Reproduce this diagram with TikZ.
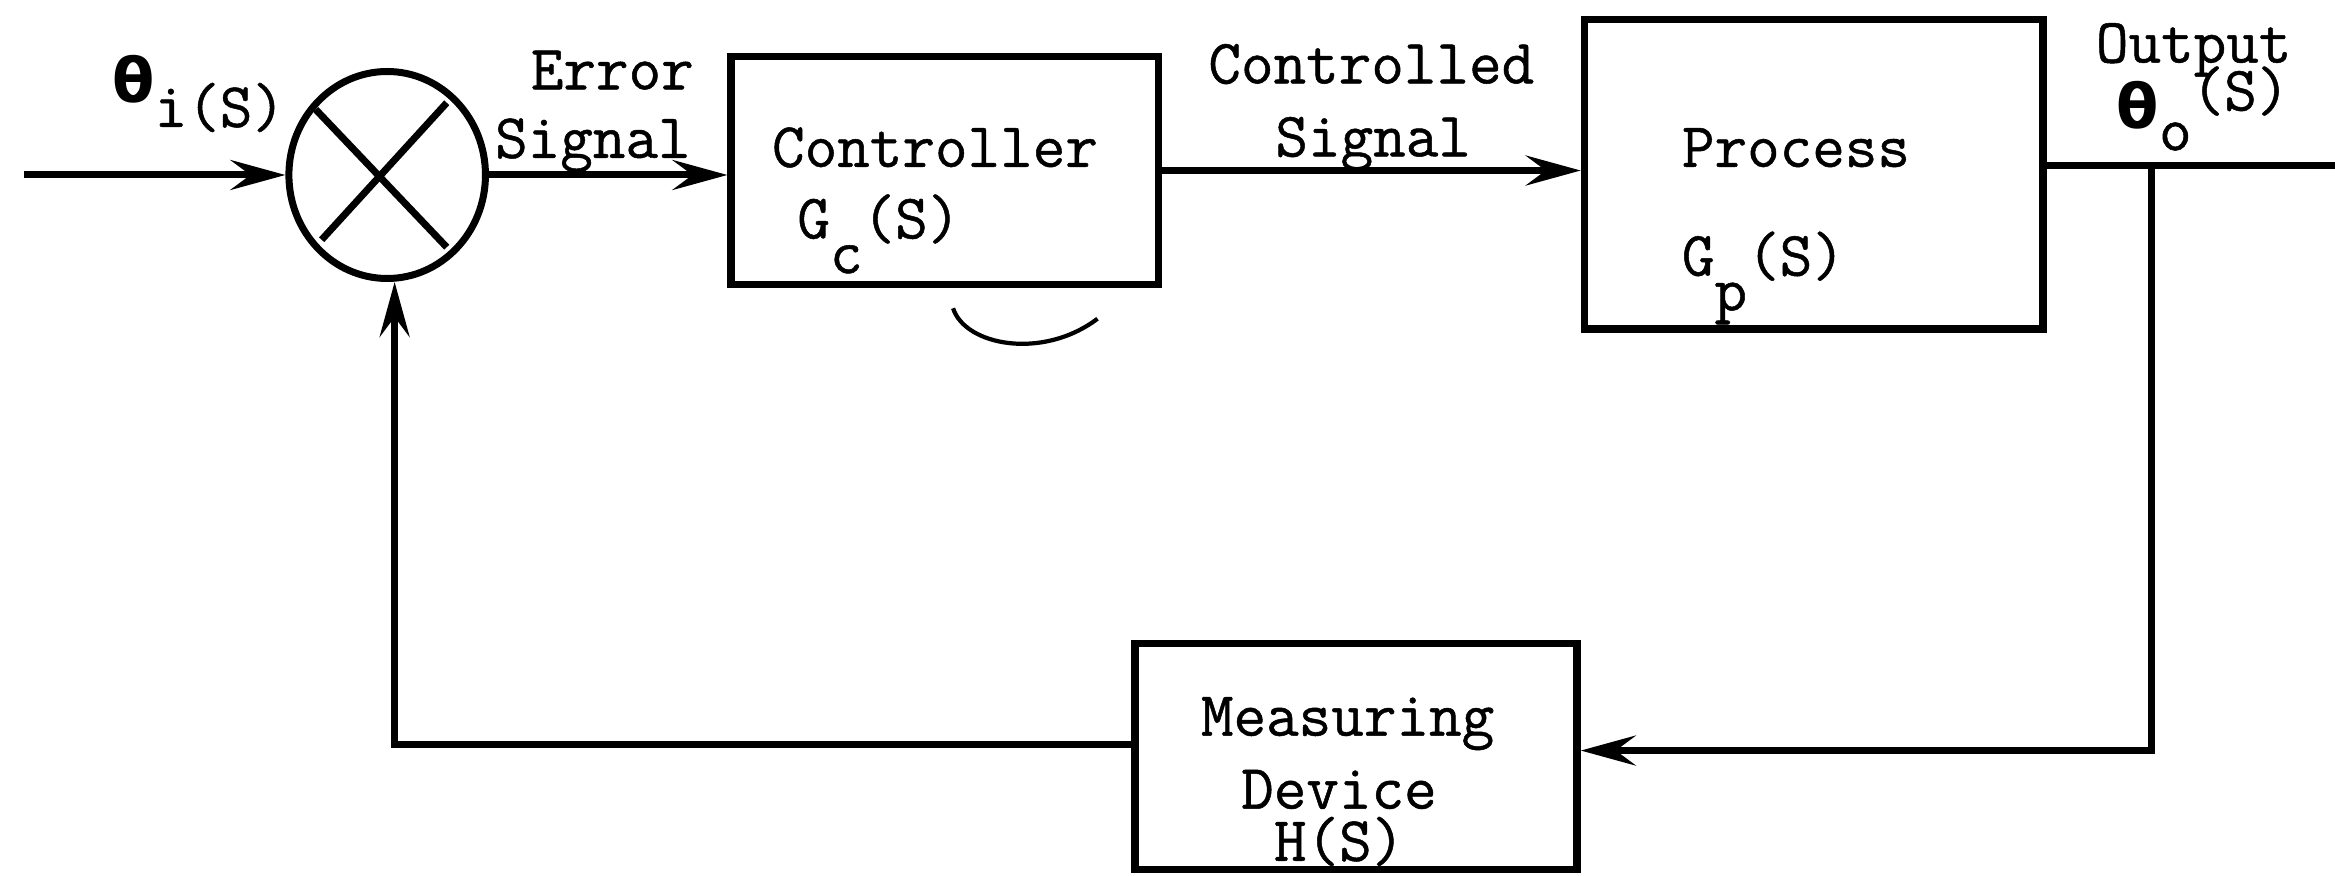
\documentclass[tikz,border=0pt]{standalone}
\usepackage{fontspec}
\usetikzlibrary{arrows.meta,shapes.geometric,calc}
\newfontfamily\thfont{DejaVu Sans}
\newfontfamily\tw{Latin Modern Mono}[FakeBold=0.8]
\newcommand{\lowr}[1]{\raisebox{-0.55em}{#1}}
\newcommand{\thbold}{{\thfont\bfseries\fontsize{17.5}{20}\selectfont θ}}
\begin{document}
\begin{tikzpicture}[x=0.14892mm,y=-0.14892mm,
  lbl/.style={font=\tw\fontsize{18}{20}\selectfont, inner sep=0pt, anchor=base west},
  blk/.style={draw, line width=0.75mm, rectangle, inner sep=0pt},
  wire/.style={line width=0.7mm},
  sig/.style={line width=0.7mm, -{Stealth[length=5.5mm,width=3mm,inset=2mm]}}]
\useasboundingbox (0,0) rectangle (1568,588);

% blocks
\node[draw, ellipse, line width=0.7mm, inner sep=0pt,
      minimum width={132*0.14892mm}, minimum height={139*0.14892mm}] (sum) at (260,117.5) {};
\node[blk, minimum width={287*0.14892mm}, minimum height={153*0.14892mm}] (ctrl) at (634.5,114.5) {};
\node[blk, minimum width={308*0.14892mm}, minimum height={208*0.14892mm}] (proc) at (1218,117) {};
\node[blk, minimum width={297*0.14892mm}, minimum height={152*0.14892mm}] (meas) at (910.5,508) {};

% cross in summing junction
\draw[line width=0.7mm] ($(sum.center)+(-48,-44)$) -- ($(sum.center)+(40,48.5)$);
\draw[line width=0.7mm] ($(sum.center)+(40,-48.5)$) -- ($(sum.center)+(-44,43.5)$);

% coordinates
\coordinate (in) at (16,117.5);
\coordinate (br) at (1445,111);
\coordinate (out) at (1568,111);
\coordinate (fbR) at (1445,504);
\coordinate (fbL) at (265,500);

% connectors
\draw[sig] (in) -- (sum.west);
\draw[sig] (sum.east) -- (sum.east -| ctrl.west);
\draw[sig] (ctrl.east) -- (ctrl.east -| proc.west);
\draw[wire] (proc.east |- br) -- (out);
\draw[sig] (br) -- (fbR) -- (fbR -| meas.east);
\draw[sig] (fbL -| meas.west) -- (fbL) -- (fbL |- sum.south);

% pen mark below controller
\draw[line width=1.2pt] (640,207) .. controls (648,232) and (700,242) .. (737,214);

% labels
\node[lbl] (thi) at (75,69) {\thbold\raisebox{-0.38em}{i(S)}};
\node[lbl] (err1) at (356,60) {Error};
\node[lbl] (err2) at (332,106) {Signal};
\node[lbl] (ct1) at (518,112) {Controller};
\node[lbl] (ct2) at (535,160) {G\lowr{c}(S)};
\node[lbl] (cs1) at (811,56) {Controlled};
\node[lbl] (cs2) at (856,105) {Signal};
\node[lbl] (pr1) at (1129,112) {Process};
\node[lbl] (pr2) at (1129,185) {G\lowr{p}(S)};
\node[lbl] (ou1) at (1407,42) {Output};
\node[lbl] (ou2) at (1421,86) {\thbold\raisebox{-0.35em}{o}\raisebox{0.28em}{(S)}};
\node[lbl] (me1) at (806,494) {Measuring};
\node[lbl] (me2) at (833,543) {Device};
\node[lbl] (me3) at (855,578) {H(S)};
\end{tikzpicture}
\end{document}
